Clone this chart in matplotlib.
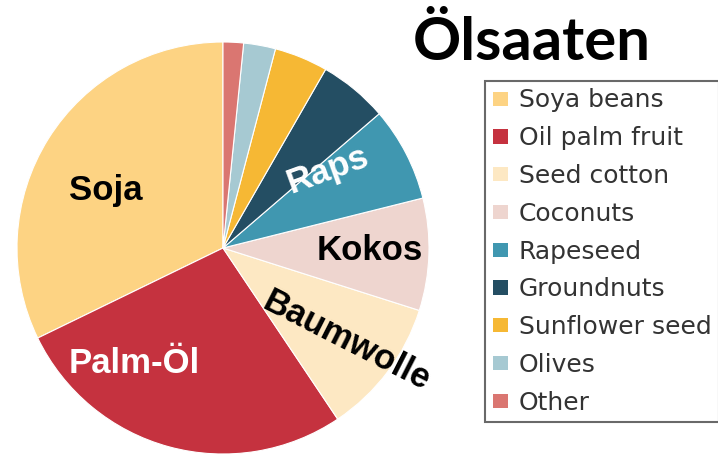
import matplotlib.pyplot as plt
from matplotlib.patches import Patch

# shares of world oilseed production (%)
crops = ['Soya beans', 'Oil palm fruit', 'Seed cotton', 'Coconuts', 'Rapeseed',
         'Groundnuts', 'Sunflower seed', 'Olives', 'Other']
shares = [32.2, 27.2, 10.7, 8.8, 7.4, 5.4, 4.2, 2.5, 1.6]
colors = ['#FDD383', '#C5323F', '#FDE8C3', '#EED5CF', '#4097B0',
          '#244E63', '#F6B834', '#A6C9D2', '#DA7671']

# german labels written inside the pie
labels_de = ['Soja', 'Palm-Öl', 'Baumwolle', 'Kokos', 'Raps']
label_pos = [(-0.57, 0.28), (-0.43, -0.56), (0.60, -0.45), (0.71, -0.01), (0.51, 0.38)]
label_rot = [0, 0, -27, 0, 20]
label_col = ['black', 'white', 'black', 'black', 'white']

W, H = 718, 462
fig = plt.figure(figsize=(W / 100, H / 100), dpi=100)

## pie centred at (223, 248) px with radius 206 px
cx, cy, r = 223, 248, 206
ax = fig.add_axes([(cx - r) / W, (H - cy - r) / H, 2 * r / W, 2 * r / H])
ax.pie(shares, colors=colors, startangle=90, counterclock=True,
       wedgeprops=dict(edgecolor='white', linewidth=0.8))
ax.set_xlim(-1, 1)
ax.set_ylim(-1, 1)
ax.set_aspect('equal')

for txt, (x, y), rot, col in zip(labels_de, label_pos, label_rot, label_col):
    ax.text(x, y, txt, ha='center', va='center', rotation=rot, color=col,
            fontsize=25, fontweight='bold', family='Liberation Sans',
            rotation_mode='anchor')

fig.text(532 / W, 1 - 43 / H, 'Ölsaaten', ha='center', va='center',
         fontsize=43, fontweight='bold', family='Lato')

handles = [Patch(facecolor=c, edgecolor='none') for c in colors]
leg = fig.legend(handles, crops, loc='upper left',
                 bbox_to_anchor=(485 / W, 1 - 81 / H), borderaxespad=0,
                 frameon=True, fancybox=False,
                 handlelength=0.6, handleheight=0.5, handletextpad=0.45,
                 borderpad=0.3, labelspacing=0.55,
                 prop={'family': 'DejaVu Sans', 'size': 18})
leg.get_frame().set_edgecolor('#444444')
leg.get_frame().set_linewidth(1.5)
for t in leg.get_texts():
    t.set_color('#333333')

fig.savefig('out.png', dpi=100)
